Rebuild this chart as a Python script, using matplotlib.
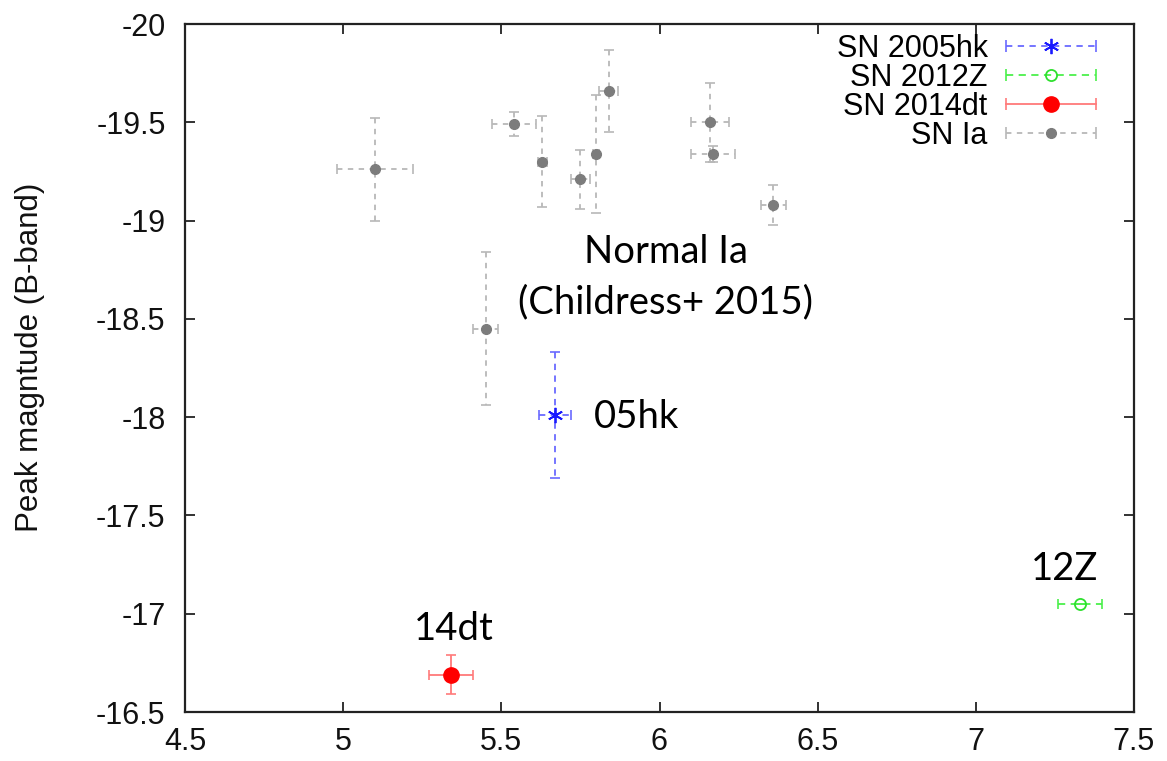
import matplotlib
matplotlib.use("Agg")
import matplotlib.pyplot as plt
from matplotlib.lines import Line2D
from matplotlib.legend_handler import HandlerBase

plt.rcParams['axes.unicode_minus'] = False
plt.rcParams['font.family'] = ['Liberation Sans', 'DejaVu Sans']

# ---------------- data ----------------
ia_x = [5.10, 5.54, 5.63, 5.75, 5.80, 5.84, 6.16, 6.17, 6.36, 5.45]
ia_y = [-19.26, -19.49, -19.30, -19.21, -19.34, -19.66, -19.50, -19.34, -19.08, -18.45]
ia_xerr = [0.12, 0.07, 0.015, 0.03, 0.01, 0.03, 0.06, 0.07, 0.04, 0.04]
ia_yerr = [0.26, 0.06, 0.23, 0.15, 0.30, 0.21, 0.20, 0.04, 0.10, 0.39]

hk_x = [5.67]
hk_y = [-18.01]
hk_xerr = [0.05]
hk_yerr = [0.32]

z_x = [7.33]
z_y = [-17.05]
z_xerr = [0.07]
z_yerr = [0.0]

dt_x = [5.34]
dt_y = [-16.69]
dt_xerr = [0.07]
dt_yerr = [0.10]

x_ticks = [4.5, 5, 5.5, 6, 6.5, 7, 7.5]
x_ticklabels = ['4.5', '5', '5.5', '6', '6.5', '7', '7.5']
y_ticks = [-20, -19.5, -19, -18.5, -18, -17.5, -17, -16.5]
y_ticklabels = ['-20', '-19.5', '-19', '-18.5', '-18', '-17.5', '-17', '-16.5']

legend_labels = ['SN 2005hk', 'SN 2012Z', 'SN 2014dt', 'SN Ia']

# ---------------- figure ----------------
fig = plt.figure(figsize=(11.67, 7.61), dpi=100)
ax = fig.add_axes([185 / 1167, 1 - 712 / 761, (1134 - 185) / 1167, (712 - 24) / 761])

styles = {
    'SN 2005hk': dict(ecolor='#6a6aff', ls=(0, (3.5, 3)), marker=(6, 2, 0), ms=11, mfc='#1a1aff', mec='#1a1aff', mew=1.3),
    'SN 2012Z': dict(ecolor='#4cf04c', ls=(0, (4, 3)), marker='o', ms=8, mfc='none', mec='#2ee02e', mew=1.3),
    'SN 2014dt': dict(ecolor='#ff7a7a', ls='-', marker='o', ms=11, mfc='#ff0000', mec='#ff0000', mew=1),
    'SN Ia': dict(ecolor='#b8b8b8', ls=(0, (3, 3)), marker='o', ms=7, mfc='#7c7c7c', mec='#7c7c7c', mew=1),
}

def draw(x, y, xe, ye, st):
    eb = ax.errorbar(x, y, xerr=xe, yerr=ye, fmt='none', ecolor=st['ecolor'],
                     elinewidth=1.3, capsize=3.5, capthick=1.2, zorder=2)
    for lc in eb[2]:
        lc.set_linestyle(st['ls'])
    ax.plot(x, y, ls='none', marker=st['marker'], ms=st['ms'], mfc=st['mfc'],
            mec=st['mec'], mew=st['mew'], zorder=3)

draw(ia_x, ia_y, ia_xerr, ia_yerr, styles['SN Ia'])
draw(hk_x, hk_y, hk_xerr, hk_yerr, styles['SN 2005hk'])
draw(z_x, z_y, z_xerr, z_yerr, styles['SN 2012Z'])
draw(dt_x, dt_y, dt_xerr, dt_yerr, styles['SN 2014dt'])

ax.set_xlim(4.5, 7.5)
ax.set_ylim(-16.5, -20)
ax.set_xticks(x_ticks)
ax.set_xticklabels(x_ticklabels)
ax.set_yticks(y_ticks)
ax.set_yticklabels(y_ticklabels)
ax.tick_params(direction='in', length=7, width=1.3, top=True, right=True,
               labelsize=22, colors='#222222', labelcolor='#111111')
ax.tick_params(axis='y', pad=14)
ax.tick_params(axis='x', pad=11)
for sp in ax.spines.values():
    sp.set_linewidth(1.6)
    sp.set_color('#222222')

ax.set_ylabel('Peak magntude (B-band)', fontsize=22.5, color='#111111')
ax.yaxis.set_label_coords(-0.147, 0.515)

# annotations (Calibri-like)
afont = ['Lato', 'DejaVu Sans']
ax.text(6.02, -18.786, 'Normal Ia', fontsize=27.5, family=afont, ha='center', va='baseline')
ax.text(6.02, -18.529, '(Childress+ 2015)', fontsize=27.5, family=afont, ha='center', va='baseline')
ax.text(5.794, -17.947, '05hk', fontsize=27.5, family=afont, ha='left', va='baseline')
ax.text(5.35, -16.867, '14dt', fontsize=27.5, family=afont, ha='center', va='baseline')
ax.text(7.282, -17.172, '12Z', fontsize=27.5, family=afont, ha='center', va='baseline')

# legend with gnuplot-like handles
class HandlerCapLine(HandlerBase):
    def create_artists(self, legend, orig_handle, xdescent, ydescent, width, height, fontsize, trans):
        y = height / 2 - ydescent
        x0, x1 = -xdescent, width - xdescent
        st = orig_handle._st
        line = Line2D([x0, x1], [y, y], color=st['ecolor'], ls=st['ls'], lw=1.3)
        caps = Line2D([x0, x1], [y, y], ls='none', marker='|', ms=8, mew=1.2, color=st['ecolor'])
        mk = Line2D([(x0 + x1) / 2], [y], ls='none', marker=st['marker'], ms=st['ms'],
                    mfc=st['mfc'], mec=st['mec'], mew=st['mew'])
        for a in (line, caps, mk):
            a.set_transform(trans)
        return [line, caps, mk]

handles = []
for lab in legend_labels:
    h = Line2D([], [])
    h._st = styles[lab]
    handles.append(h)

ax.legend(handles, legend_labels, loc='upper right', bbox_to_anchor=(0.960, 0.986),
          frameon=False, markerfirst=False, fontsize=22, handlelength=2.95,
          handletextpad=0.6, labelspacing=-0.03, borderpad=0, borderaxespad=0,
          handler_map={Line2D: HandlerCapLine()})

fig.savefig('out.png', dpi=100)
